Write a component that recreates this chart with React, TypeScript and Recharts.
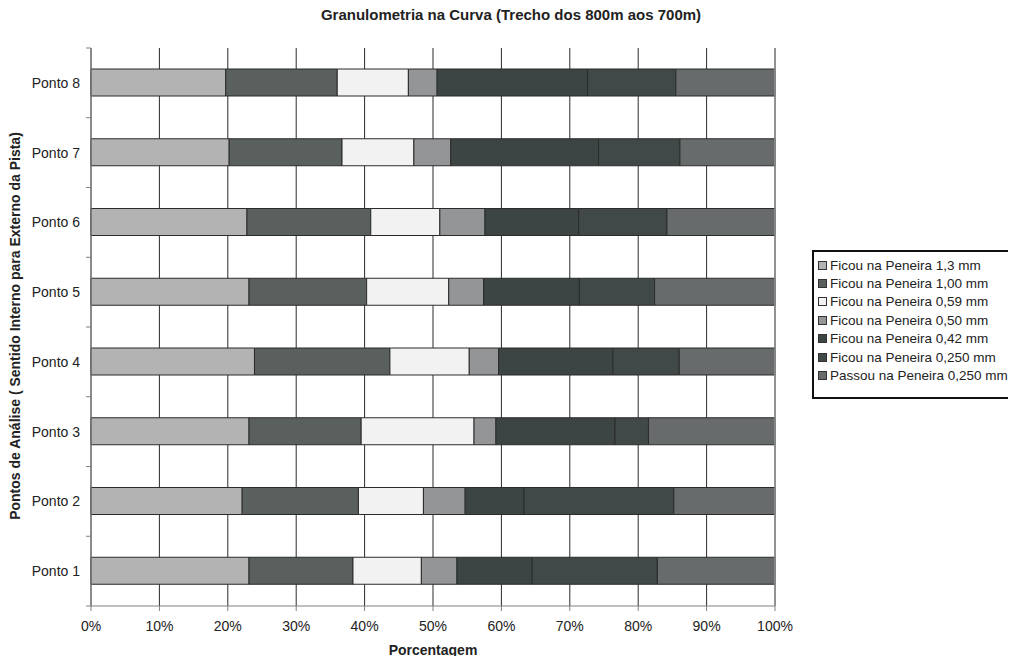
import React from 'react';
import {
  BarChart,
  Bar,
  XAxis,
  YAxis,
  CartesianGrid,
  ReferenceLine,
} from 'recharts';

// sampling points, bottom to top
const pontos = ['Ponto 1', 'Ponto 2', 'Ponto 3', 'Ponto 4', 'Ponto 5', 'Ponto 6', 'Ponto 7', 'Ponto 8'];

// % retained on each sieve, per point (Ponto 1 .. Ponto 8)
const peneira13 = [23.1, 22.1, 23.1, 23.9, 23.1, 22.8, 20.2, 19.7];
const peneira100 = [15.2, 17.0, 16.4, 19.8, 17.2, 18.1, 16.5, 16.3];
const peneira059 = [10.0, 9.5, 16.5, 11.6, 12.0, 10.1, 10.5, 10.4];
const peneira050 = [5.2, 6.1, 3.2, 4.3, 5.1, 6.6, 5.4, 4.2];
const peneira042 = [11.0, 8.6, 17.4, 16.7, 14.0, 13.7, 21.6, 22.0];
const peneira0250 = [18.3, 21.9, 4.9, 9.7, 11.0, 12.9, 11.9, 12.9];
const passou0250 = [17.2, 14.8, 18.5, 14.0, 17.6, 15.8, 13.9, 14.5];

const xTicks = [0, 10, 20, 30, 40, 50, 60, 70, 80, 90, 100];

const series = [
  { key: 'p13', name: 'Ficou na Peneira 1,3 mm', values: peneira13, color: '#b3b3b3' },
  { key: 'p100', name: 'Ficou na Peneira 1,00 mm', values: peneira100, color: '#59605e' },
  { key: 'p059', name: 'Ficou na Peneira 0,59 mm', values: peneira059, color: '#f2f2f2' },
  { key: 'p050', name: 'Ficou na Peneira 0,50 mm', values: peneira050, color: '#949597' },
  { key: 'p042', name: 'Ficou na Peneira 0,42 mm', values: peneira042, color: '#3c4544' },
  { key: 'p0250', name: 'Ficou na Peneira 0,250 mm', values: peneira0250, color: '#404947' },
  { key: 'pass', name: 'Passou na Peneira 0,250 mm', values: passou0250, color: '#676b6b' },
];

const data = pontos.map((ponto, i) => {
  const row: Record<string, any> = { ponto };
  series.forEach((s) => {
    row[s.key] = s.values[i];
  });
  return row;
});

const W = 1016;
const H = 664;
const margin = { top: 48, right: 241, bottom: 0, left: 0 };
const xAxisHeight = 58;
const band = (H - margin.top - margin.bottom - xAxisHeight) / pontos.length;
const font = 'Arial, "Liberation Sans", sans-serif';

// category label plus a small tick at the band edge (between categories)
const PontoTick = (props: any) => {
  const { x, y, payload } = props;
  const edge = y - band / 2;
  return (
    <g>
      <line x1={x - 5} x2={x} y1={edge} y2={edge} stroke="#808080" />
      {payload.value === 'Ponto 1' && (
        <line x1={x - 5} x2={x} y1={y + band / 2} y2={y + band / 2} stroke="#808080" />
      )}
      <text x={x - 11} y={y} dy="0.35em" textAnchor="end" fontSize={14} fill="#222" fontFamily={font}>
        {payload.value}
      </text>
    </g>
  );
};

// legend box sits to the right of the plot and runs off the right edge
const LegendBox = () => (
  <div
    style={{
      position: 'absolute',
      left: 812,
      top: 250,
      border: '2px solid #111',
      background: '#fff',
      padding: '4px 6px 12px 4px',
      width: 230,
      fontFamily: font,
      fontSize: 13.5,
      color: '#222',
    }}
  >
    {series.map((s) => (
      <div key={s.key} style={{ display: 'flex', alignItems: 'center', height: 18.4, whiteSpace: 'nowrap' }}>
        <span
          style={{
            display: 'inline-block',
            width: 7,
            height: 7,
            background: s.color,
            border: '1px solid #333',
            marginRight: 3,
          }}
        />
        {s.name}
      </div>
    ))}
  </div>
);

export default function App() {
  return (
    <div style={{ margin: -8, width: W, height: H, position: 'relative', overflow: 'hidden', background: '#fff' }}>
      <BarChart width={W} height={H} data={data} layout="vertical" margin={margin} barSize={27}>
        <CartesianGrid horizontal={false} stroke="#2a2a2a" />
        <XAxis
          type="number"
          domain={[0, 100]}
          ticks={xTicks}
          tickFormatter={(v) => `${v}%`}
          height={xAxisHeight}
          axisLine={{ stroke: '#808080' }}
          tickLine={{ stroke: '#808080' }}
          tickSize={5}
          tickMargin={10}
          tick={{ fill: '#222', fontSize: 14, fontFamily: font }}
        />
        <XAxis
          xAxisId="top"
          orientation="top"
          type="number"
          domain={[0, 100]}
          height={0}
          tick={false}
          tickLine={false}
          axisLine={{ stroke: '#c4c4c4' }}
        />
        <YAxis
          type="category"
          dataKey="ponto"
          reversed
          width={91}
          axisLine={{ stroke: '#808080' }}
          tickLine={false}
          tickSize={0}
          tickMargin={0}
          tick={<PontoTick />}
          interval={0}
        />
        <ReferenceLine x={100} stroke="#c4c4c4" />
        {series.map((s) => (
          <Bar
            key={s.key}
            dataKey={s.key}
            name={s.name}
            stackId="g"
            fill={s.color}
            stroke="#2b2b2b"
            strokeWidth={1}
            isAnimationActive={false}
          />
        ))}
      </BarChart>
      <div
        style={{
          position: 'absolute',
          top: 6,
          left: 0,
          width: 1022,
          textAlign: 'center',
          fontFamily: font,
          fontWeight: 'bold',
          fontSize: 15,
          color: '#222',
        }}
      >
        Granulometria na Curva (Trecho dos 800m aos 700m)
      </div>
      <div
        style={{
          position: 'absolute',
          left: 15,
          top: 326,
          transform: 'translate(-50%, -50%) rotate(-90deg)',
          whiteSpace: 'nowrap',
          fontFamily: font,
          fontWeight: 'bold',
          fontSize: 14,
          color: '#222',
        }}
      >
        Pontos de Análise ( Sentido Interno para Externo da Pista)
      </div>
      <div
        style={{
          position: 'absolute',
          left: 91,
          width: 684,
          top: 642,
          textAlign: 'center',
          fontFamily: font,
          fontWeight: 'bold',
          fontSize: 14,
          color: '#222',
        }}
      >
        Porcentagem
      </div>
      <LegendBox />
    </div>
  );
}
